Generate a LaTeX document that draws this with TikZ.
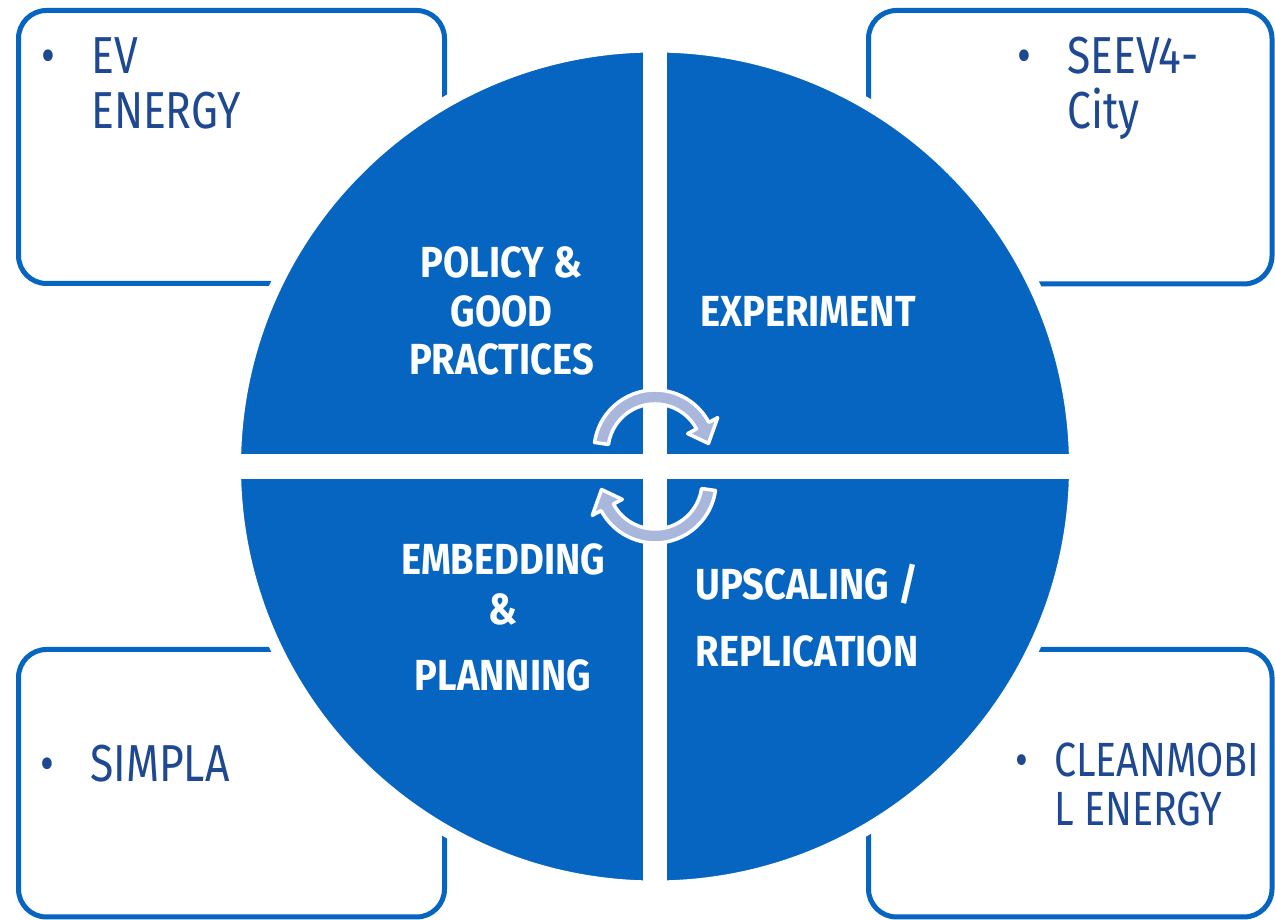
\documentclass[tikz,border=0pt]{standalone}
\usepackage{fontspec}
\setmainfont{Fira Sans}[FakeStretch=0.82]
\newfontfamily\quadfont{Fira Sans}[FakeStretch=0.875]
\definecolor{euBlue}{RGB}{5,101,192}
\definecolor{navy}{RGB}{30,72,145}
\definecolor{lav}{RGB}{170,183,221}
\begin{document}
\begin{tikzpicture}[x=1pt,y=1pt,
  card/.style={draw=euBlue, line width=5pt, rounded corners=28pt, fill=white},
  item/.style={anchor=base west, align=left, text=navy, font=\fontsize{52}{55}\selectfont, inner sep=0pt},
  quad/.style={text=white, font=\quadfont\bfseries\fontsize{43.5}{52}\selectfont, align=center, anchor=base, inner sep=0pt},
  cyc/.style={fill=lav, draw=white, line width=3.5pt, line join=round}]
\useasboundingbox (0,0) rectangle (1275,920);
% side boxes
\draw[card] (18.5,636.5) rectangle (444.5,909.5);
\draw[card] (868.5,636) rectangle (1272,909.5);
\draw[card] (18.5,3) rectangle (444.5,270.5);
\draw[card] (868.5,3) rectangle (1272,270.5);
% circle
\draw[fill=euBlue, draw=white, line width=12pt] (655,453.5) circle (420);
\begin{scope}
  \clip (655,453.5) circle (420);
  \fill[white] (643,0) rectangle (667,920);
  \fill[white] (0,441) rectangle (1275,466);
\end{scope}
% cycle arrows
\coordinate (cu) at (655,469);
\coordinate (cl) at (655,438);
\draw[cyc] ([shift={(172:61)}]cu) arc[start angle=172, end angle=28, radius=61]
  -- ([shift={(28:71)}]cu) -- ([shift={(8:54)}]cu) -- ([shift={(28:37)}]cu)
  -- ([shift={(28:47)}]cu) arc[start angle=28, end angle=172, radius=47] -- cycle;
\draw[cyc] ([shift={(352:61)}]cl) arc[start angle=352, end angle=208, radius=61]
  -- ([shift={(208:71)}]cl) -- ([shift={(188:54)}]cl) -- ([shift={(208:37)}]cl)
  -- ([shift={(208:47)}]cl) arc[start angle=208, end angle=352, radius=47] -- cycle;
% quadrant labels (base = last line)
\node[quad, font=\quadfont\bfseries\fontsize{43.5}{48.5}\selectfont] (policy) at (501.5,545) {POLICY \&\\GOOD\\PRACTICES};
\node[quad] (experiment) at (808,593) {EXPERIMENT};
\node[quad, font=\quadfont\bfseries\fontsize{43.5}{50}\selectfont] (embedding) at (503,229) {EMBEDDING\\\&\\[16pt]PLANNING};
\node[quad] (upscaling) at (807,253) {UPSCALING /\\[15pt]REPLICATION};
% box texts (base = last line)
\node[item] (ev) at (91,791) {\llap{•\hspace{36pt}}EV\\ENERGY};
\node[item] (seev) at (1067,791) {\llap{•\hspace{36pt}}SEEV4-\\City};
\node[item] (simpla) at (90,138) {\llap{•\hspace{36pt}}SIMPLA};
\node[item, font=\fontsize{48}{49}\selectfont] (clean) at (1054,94) {\llap{•\hspace{26pt}}CLEANMOBI\\L ENERGY};
\end{tikzpicture}
\end{document}
